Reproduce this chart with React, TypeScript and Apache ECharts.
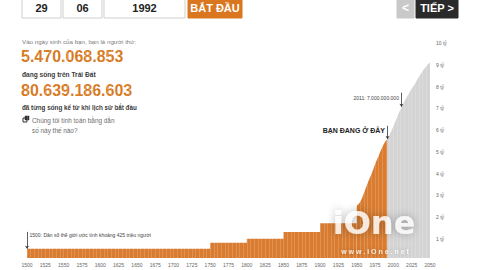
import React, { useEffect, useRef } from "react";
import * as echarts from "echarts";

// ---- data ----
const xTickYears = [1500, 1525, 1550, 1575, 1600, 1625, 1650, 1675, 1700, 1725, 1750, 1775, 1800, 1825, 1850, 1875, 1900, 1925, 1950, 1975, 2000, 2025, 2050];
const yTickLabels = ["", "1 tỷ", "2 tỷ", "3 tỷ", "4 tỷ", "5 tỷ", "6 tỷ", "7 tỷ", "8 tỷ", "9 tỷ", "10 tỷ"];

// historical population (billions), stepped
const stepYears = [1500, 1750, 1800, 1850, 1900, 1950];
const stepValues = [0.425, 0.7, 0.88, 1.2, 1.6, 2.4];
// modern growth up to birth year
const growthYears = [1950, 1955, 1960, 1965, 1970, 1975, 1980, 1985, 1990, 1992];
const growthValues = [2.4, 2.6, 3.0, 3.45, 3.85, 4.3, 4.7, 5.1, 5.4, 5.47];
// projection after birth year
const projYears = [1992, 2000, 2010, 2020, 2030, 2040, 2050];
const projValues = [5.47, 6.05, 6.85, 7.5, 8.05, 8.6, 9.0];

// annotations
const noteStart = { year: 1500, top: 1.2, value: 0.425, labelValue: 1.06, text: "1500: Dân số thế giới ước tính khoảng 425 triệu người" };
const note2011 = { year: 2011, top: 7.6, value: 6.95, labelValue: 7.36, text: "2011: 7.000.000.000" };
const noteHere = { year: 1992, top: 6.08, value: 5.47, labelValue: 5.88, text: "BẠN ĐANG Ở ĐÂY" };

// header texts
const birthDay = "29";
const birthMonth = "06";
const birthYear = "1992";
const startLabel = "BẮT ĐẦU";
const nextLabel = "TIẾP >";
const introText = "Vào ngày sinh của bạn, bạn là người thứ:";
const rankNumber = "5.470.068.853";
const rankCaption = "đang sống trên Trái Đất";
const everNumber = "80.639.186.603";
const everCaption = "đã từng sống kể từ khi lịch sử bắt đầu";
const howLine1 = "Chúng tôi tính toán bằng dẫn";
const howLine2 = "số này thế nào?";

const FONT = "'Liberation Sans', Arial, sans-serif";
const ORANGE = "#d97c30";
const GREY = "#d4d4d4";

const pair = (xs: number[], ys: number[]) => xs.map((x, i) => [x, ys[i]]);

function arrowLine(n: { year: number; top: number; value: number }) {
  return {
    silent: true,
    symbol: ["none", "arrow"],
    symbolSize: 3,
    lineStyle: { color: "#333", width: 0.8, type: "solid" },
    label: { show: false },
    data: [[{ coord: [n.year, n.top] }, { coord: [n.year, n.value] }]],
  };
}

function notePoint(n: { year: number; labelValue: number; text: string }, position: string, font: any) {
  return {
    silent: true,
    data: [
      {
        coord: [n.year, n.labelValue],
        symbol: "rect",
        symbolSize: 1,
        itemStyle: { color: "rgba(0,0,0,0)" },
        label: { show: true, position, distance: 2, formatter: n.text, fontFamily: FONT, ...font },
      },
    ],
  };
}

export default function App() {
  const ref = useRef<HTMLDivElement>(null);
  useEffect(() => {
    if (!ref.current) return;
    const chart = echarts.init(ref.current, undefined, { renderer: "svg" });
    const box = (x: number, w: number, fill: string, stroke: string) => ({
      type: "rect",
      shape: { x, y: -3, width: w, height: 21 },
      style: { fill, stroke, lineWidth: 1 },
      silent: true,
    });
    const txt = (text: string, x: number, y: number, size: number, weight: string, fill: string, align = "left") => ({
      type: "text",
      x,
      y,
      silent: true,
      style: { text, fill, fontSize: size, fontWeight: weight, fontFamily: FONT, align, verticalAlign: "middle" },
    });
    chart.setOption({
      animation: false,
      backgroundColor: "#fff",
      grid: { left: 27, right: 50, top: 40.5, bottom: 12 },
      xAxis: [
        {
          type: "value",
          min: 1500,
          max: 2050,
          interval: 25,
          axisLine: { show: false },
          axisTick: { show: false },
          splitLine: { show: false },
          axisLabel: {
            margin: 4,
            fontSize: 5,
            color: "#666",
            fontFamily: FONT,
            formatter: (v: number) => (xTickYears.includes(v) ? String(v) : ""),
          },
        },
        {
          type: "value",
          min: 1500,
          max: 2050,
          interval: 5,
          position: "bottom",
          z: 5,
          axisLine: { show: false },
          axisTick: { show: false },
          axisLabel: { show: false },
          splitLine: { show: true, lineStyle: { color: "rgba(255,255,255,0.22)", width: 0.8 } },
        },
      ],
      yAxis: {
        type: "value",
        position: "right",
        min: 0,
        max: 10,
        interval: 1,
        axisLine: { show: false },
        axisTick: { show: false },
        splitLine: { show: false },
        axisLabel: {
          margin: 6,
          fontSize: 5,
          color: "#666",
          fontFamily: FONT,
          verticalAlign: "top",
          formatter: (v: number) => yTickLabels[Math.round(v)] ?? "",
        },
      },
      series: [
        {
          type: "line",
          step: "end",
          data: pair(stepYears, stepValues),
          symbol: "none",
          lineStyle: { width: 0 },
          areaStyle: { color: ORANGE, opacity: 1 },
          markLine: arrowLine(noteStart),
          markPoint: notePoint(noteStart, "right", { fontSize: 5, color: "#444" }),
        },
        {
          type: "line",
          smooth: true,
          data: pair(growthYears, growthValues),
          symbol: "none",
          lineStyle: { width: 0 },
          areaStyle: { color: ORANGE, opacity: 1 },
          markLine: arrowLine(noteHere),
          markPoint: notePoint(noteHere, "left", { fontSize: 7, fontWeight: "bold", color: "#222" }),
        },
        {
          type: "line",
          smooth: true,
          data: pair(projYears, projValues),
          symbol: "none",
          lineStyle: { width: 0 },
          areaStyle: { color: GREY, opacity: 1 },
          markLine: arrowLine(note2011),
          markPoint: notePoint(note2011, "left", { fontSize: 5, color: "#444" }),
        },
      ],
      graphic: [
        box(22, 39, "#fff", "#cfcfcf"),
        box(63, 39, "#fff", "#cfcfcf"),
        box(104, 81, "#fff", "#cfcfcf"),
        box(188, 54, "#d9761f", "#d9761f"),
        box(397, 17, "#c9c9c9", "#c9c9c9"),
        box(416, 42, "#2a2a2a", "#2a2a2a"),
        txt(birthDay, 41.5, 8, 11, "bold", "#222", "center"),
        txt(birthMonth, 82.5, 8, 11, "bold", "#222", "center"),
        txt(birthYear, 144.5, 8, 11, "bold", "#222", "center"),
        txt(startLabel, 215, 8, 11, "bold", "#fff", "center"),
        txt("<", 405.5, 8, 12, "bold", "#fff", "center"),
        txt(nextLabel, 437, 8, 11, "bold", "#fff", "center"),
        txt(introText, 22, 41, 6.2, "normal", "#777"),
        txt(rankNumber, 21, 56, 16, "bold", "#d77a1f"),
        txt(rankCaption, 22, 74, 6.6, "bold", "#333"),
        txt(everNumber, 21, 90, 16, "bold", "#d77a1f"),
        txt(everCaption, 22, 107, 6.3, "bold", "#333"),
        {
          type: "rect",
          shape: { x: 23, y: 118, width: 4, height: 4 },
          style: { fill: "#fff", stroke: "#333", lineWidth: 1 },
          silent: true,
        },
        {
          type: "rect",
          shape: { x: 25, y: 116, width: 4, height: 4 },
          style: { fill: "#333", stroke: "#333", lineWidth: 0.5 },
          silent: true,
        },
        txt(howLine1, 32, 120, 6.4, "normal", "#666"),
        txt(howLine2, 32, 130, 6.4, "normal", "#666"),
        {
          type: "text",
          x: 374,
          y: 223,
          z: 100,
          silent: true,
          style: {
            text: "iOne",
            fontSize: 32,
            fontWeight: "bold",
            fontFamily: "'DejaVu Sans', sans-serif",
            fill: "rgba(255,255,255,0.82)",
            align: "center",
            verticalAlign: "middle",
            textShadowColor: "rgba(0,0,0,0.35)",
            textShadowBlur: 8,
          },
        },
        {
          type: "text",
          x: 375,
          y: 251,
          z: 100,
          silent: true,
          style: {
            text: "w w w . i O n e . n e t",
            fontSize: 7,
            fontWeight: "bold",
            fontFamily: FONT,
            fill: "rgba(255,255,255,0.8)",
            align: "center",
            verticalAlign: "middle",
            textShadowColor: "rgba(0,0,0,0.3)",
            textShadowBlur: 4,
          },
        },
      ],
    });
    return () => chart.dispose();
  }, []);
  return <div ref={ref} style={{ position: "fixed", left: 0, top: 0, width: 480, height: 270 }} />;
}
